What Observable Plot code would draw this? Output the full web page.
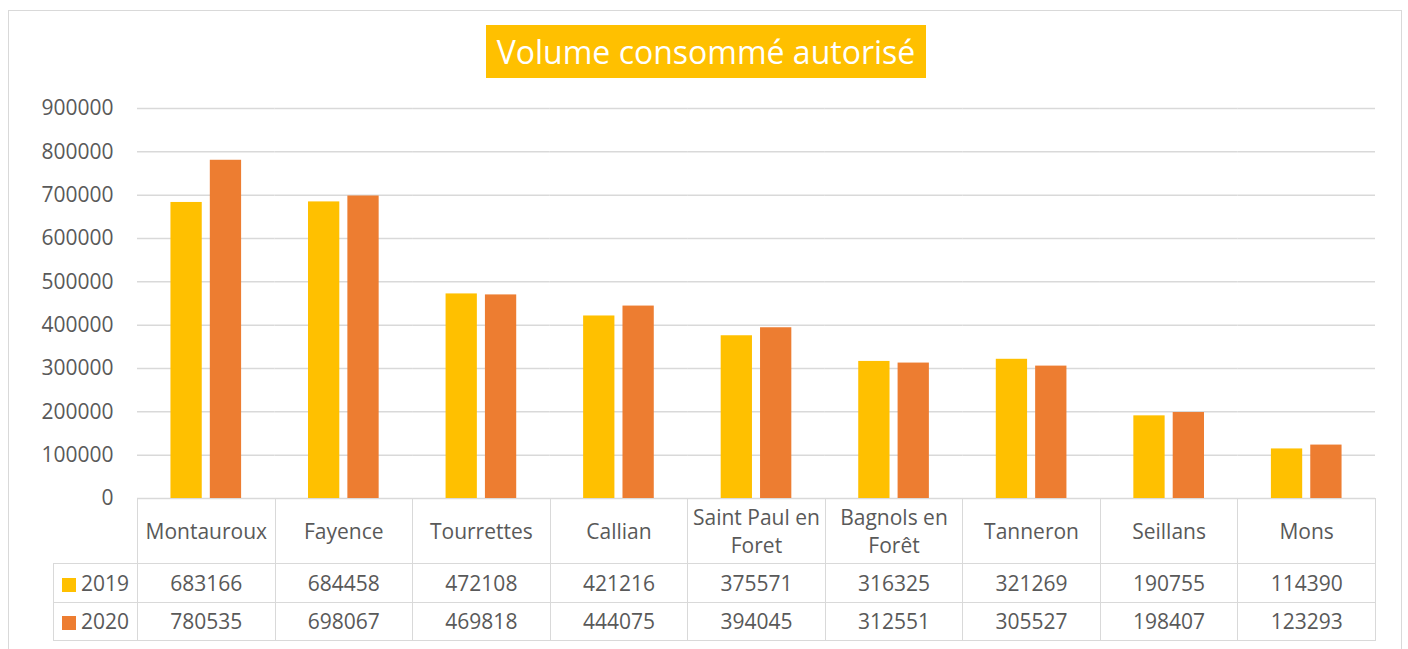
<!DOCTYPE html>
<html>
<head>
<meta charset="utf-8">
<script src="https://cdn.jsdelivr.net/npm/d3@7"></script>
<script src="https://cdn.jsdelivr.net/npm/@observablehq/plot@0.6"></script>
<style>
  html, body { margin:0; padding:0; background:#fff; width:1408px; height:649px; overflow:hidden; }
  body { font-family:"Open Sans", sans-serif; color:#595959; position:relative; }
  #frame { position:absolute; left:8px; top:10px; width:1394px; height:700px; border:1.5px solid #d9d9d9; box-sizing:border-box; }
  #title { position:absolute; left:486px; top:25px; width:440px; height:53px; background:#FFC000; color:#fff;
           font-size:32px; line-height:53px; text-align:center; white-space:nowrap; }
  #chart { position:absolute; left:0; top:90px; }
  #tbl { position:absolute; left:53px; top:498px; border-collapse:collapse; table-layout:fixed; font-size:21px; color:#595959; }
  #tbl td { border:1.5px solid #d9d9d9; text-align:center; padding:0; box-sizing:border-box; }
  #tbl tr.head td { height:65px; line-height:28px; }
  #tbl tr.row td { height:38.5px; line-height:24px; }
  #tbl td.blank { border-top:none; border-left:none; }
  #tbl td.lab { text-align:left; padding-left:8px; white-space:nowrap; }
  .sw { display:inline-block; width:14px; height:14px; margin-right:5px; vertical-align:-1px; }
</style>
</head>
<body>
<div id="frame"></div>
<div id="title">Volume consommé autorisé</div>
<div id="chart"></div>
<table id="tbl"></table>
<script>
const communes = ["Montauroux","Fayence","Tourrettes","Callian","Saint Paul en Foret","Bagnols en Forêt","Tanneron","Seillans","Mons"];
const years = ["2019","2020"];
const v2019 = [683166,684458,472108,421216,375571,316325,321269,190755,114390];
const v2020 = [780535,698067,469818,444075,394045,312551,305527,198407,123293];
const yTicks = [0,100000,200000,300000,400000,500000,600000,700000,800000,900000];
const colors = ["#FFC000","#ED7D31"];

const data = communes.flatMap((c,i) => [
  {commune:c, year:years[0], value:v2019[i]},
  {commune:c, year:years[1], value:v2020[i]}
]);

const chart = Plot.plot({
  width:1408, height:410,
  marginLeft:137, marginRight:33, marginTop:18, marginBottom:2,
  style:{fontFamily:"Open Sans", fontSize:"21px", color:"#595959", background:"transparent", overflow:"visible"},
  fx:{domain:communes, padding:0, round:false, axis:null, label:null},
  x:{domain:years, paddingInner:0.205, paddingOuter:0.85, round:false, axis:null},
  y:{domain:[0,900000], ticks:yTicks, tickFormat:"d", tickSize:0, tickPadding:24, label:null},
  color:{domain:years, range:colors},
  marks:[
    Plot.ruleY(yTicks, {stroke:"#d9d9d9", strokeWidth:1.5}),
    Plot.barY(data, {fx:"commune", x:"year", y:"value", fill:"year"})
  ]
});
document.getElementById("chart").appendChild(chart);

// data table below the chart
const tbl = d3.select("#tbl");
const cg = tbl.append("colgroup");
cg.append("col").style("width","84px");
communes.forEach(() => cg.append("col").style("width","137.55px"));
const head = tbl.append("tr").attr("class","head");
head.append("td").attr("class","blank");
communes.forEach(c => head.append("td").text(c));
[v2019, v2020].forEach((vals, k) => {
  const tr = tbl.append("tr").attr("class","row");
  const lab = tr.append("td").attr("class","lab");
  lab.append("span").attr("class","sw").style("background", colors[k]);
  lab.append("span").text(years[k]);
  vals.forEach(v => tr.append("td").text(String(v)));
});
</script>
</body>
</html>
